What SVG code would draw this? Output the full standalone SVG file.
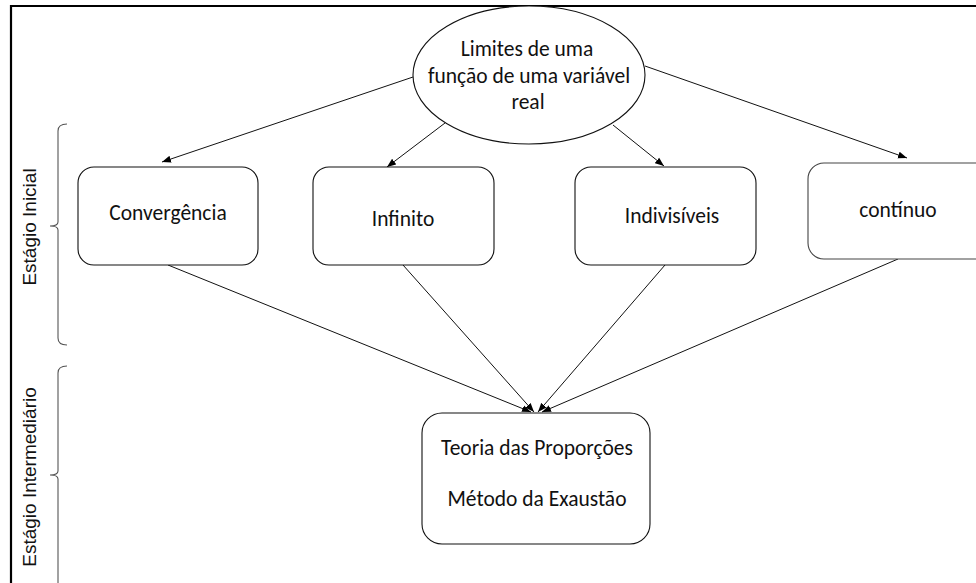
<svg xmlns="http://www.w3.org/2000/svg" width="976" height="583" viewBox="0 0 976 583">
<defs>
<marker id="ah" markerUnits="userSpaceOnUse" markerWidth="10" markerHeight="8" refX="9" refY="4" orient="auto">
<path d="M0,0.5 L9,4 L0,7.5 Z" fill="#000"/>
</marker>
<style>
.frame{fill:none;stroke:#000;stroke-width:2.2}
.box{fill:#fff;stroke:#111;stroke-width:1.1}
.conn{fill:none;stroke:#111;stroke-width:1;marker-end:url(#ah)}
.br{fill:none;stroke:#555;stroke-width:1.1}
.t{font-family:Calibri,Carlito,Lato,"Open Sans",sans-serif;font-size:21.5px;fill:#111;text-anchor:middle}
.side{font-family:"Liberation Sans",Arial,sans-serif;font-size:19px;fill:#111;text-anchor:middle}
</style>
</defs>
<rect width="976" height="583" fill="#fff"/>
<path class="frame" d="M11,583 L11,6 L976,6"/>
<g id="connectors">
<line class="conn" x1="413" y1="77" x2="162" y2="162"/>
<line class="conn" x1="445" y1="123" x2="387" y2="167"/>
<line class="conn" x1="613" y1="125" x2="664" y2="166"/>
<line class="conn" x1="645" y1="66" x2="907" y2="158"/>
<line class="conn" x1="168" y1="265" x2="531" y2="412"/>
<line class="conn" x1="403" y1="265" x2="534" y2="412"/>
<line class="conn" x1="665" y1="265" x2="538" y2="412"/>
<line class="conn" x1="898" y1="259" x2="542" y2="412"/>
</g>
<g id="limites">
<ellipse class="box" cx="529" cy="75" rx="116" ry="69"/>
<text class="t" x="527" y="56">Limites de uma</text>
<text class="t" x="529" y="83">função de uma variável</text>
<text class="t" x="528" y="109">real</text>
</g>
<g id="convergencia">
<rect class="box" x="78" y="167" width="180" height="98" rx="16"/>
<text class="t" x="168" y="220">Convergência</text>
</g>
<g id="infinito">
<rect class="box" x="313" y="167" width="181" height="98" rx="16"/>
<text class="t" x="403" y="226">Infinito</text>
</g>
<g id="indivisiveis">
<rect class="box" x="575" y="167" width="181" height="98" rx="16"/>
<text class="t" x="672" y="223">Indivisíveis</text>
</g>
<g id="continuo">
<rect class="box" x="808" y="163" width="185" height="96" rx="16" style="stroke:#444"/>
<text class="t" x="898" y="217">contínuo</text>
</g>
<g id="teoria">
<rect class="box" x="422" y="413" width="228" height="131" rx="20"/>
<text class="t" x="537" y="455">Teoria das Proporções</text>
<text class="t" x="537" y="506">Método da Exaustão</text>
</g>
<g id="estagio-inicial">
<path class="br" d="M67,124 Q58,124 58,131 L58,222 Q58,226 50,226 Q58,226 58,230 L58,338 Q58,345 67,345"/>
<text class="side" transform="translate(36,227) rotate(-90)">Estágio Inicial</text>
</g>
<g id="estagio-intermediario">
<path class="br" d="M67,366 Q58,366 58,373 L58,471 Q58,475 50,475 Q58,475 58,479 L58,583"/>
<text class="side" transform="translate(36,477) rotate(-90)">Estágio Intermediário</text>
</g>
</svg>
